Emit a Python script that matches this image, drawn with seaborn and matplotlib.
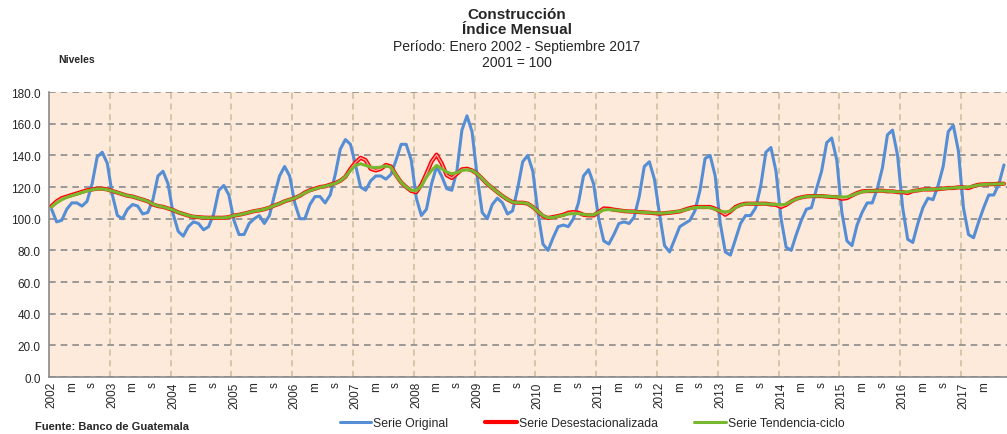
import numpy as np
import pandas as pd
import matplotlib
matplotlib.use('Agg')
import matplotlib.pyplot as plt
import seaborn as sns

# Indice mensual de construccion, enero 2002 - septiembre 2017
serie_original = [
    106, 98, 99, 106, 110, 110, 108, 111, 122, 139, 142, 135,
    115, 102, 100, 106, 109, 108, 103, 104, 112, 127, 130, 122,
    103, 92, 89, 95, 98, 97, 93, 95, 103, 118, 121, 115,
    99, 90, 90, 97, 100, 102, 97, 102, 115, 127, 133, 127,
    110, 100, 100, 109, 114, 114, 110, 115, 128, 144, 150, 147,
    134, 120, 118, 124, 127, 127, 125, 128, 137, 147, 147, 137,
    113, 102, 106, 122, 133, 127, 119, 118, 130, 156, 165, 155,
    127, 104, 100, 109, 113, 110, 103, 105, 119, 136, 140, 130,
    104, 84, 80, 88, 95, 96, 95, 100, 110, 127, 131, 122,
    100, 86, 84, 90, 97, 98, 97, 101, 114, 133, 136, 125,
    103, 83, 79, 87, 95, 97, 99, 105, 118, 138, 140, 127,
    97, 79, 77, 87, 97, 102, 102, 107, 121, 142, 145, 130,
    100, 82, 80, 90, 99, 106, 107, 119, 130, 148, 151, 137,
    104, 86, 83, 96, 104, 110, 110, 119, 132, 153, 156, 140,
    107, 87, 85, 97, 107, 113, 112, 121, 133, 155, 159, 143,
    107, 90, 88, 98, 107, 115, 115, 122, 134,
]

serie_desestacionalizada = [
    108, 111, 113, 114, 115, 116, 117, 118, 118.5, 119, 119, 118.5,
    117.5, 116.5, 115.5, 114.5, 114, 113, 112, 111, 109, 108, 107.5, 106.5,
    105.5, 104, 103, 102, 101.2, 101, 100.7, 100.6, 100.6, 100.6, 100.6, 101,
    102, 102.5, 103.2, 104, 104.8, 105.3, 106, 107, 108.4, 109.5, 111, 112,
    113, 114.5, 116.5, 118, 119, 120, 120.5, 121.5, 122.5, 124, 126.5, 131.5,
    135.5, 138.5, 137, 131.5, 130.5, 131.5, 134, 133, 127.5, 123, 120, 117.5,
    116.8, 121.5, 128.5, 136, 140.5, 135, 127.5, 125.7, 128.4, 131.2, 131.6, 130.5,
    128.4, 125.3, 122, 119.4, 116.8, 114.3, 112.2, 110.5, 110.1, 110.1, 109.5, 107.4,
    104.6, 101.7, 100.4, 101.1, 101.7, 102.5, 103.8, 104.2, 103.8, 102.5, 102.1, 102.1,
    104.2, 106.5, 106.3, 105.7, 105.3, 104.8, 104.6, 104.5, 104.2, 104, 103.8, 103.5,
    103.2, 103.5, 103.8, 104.2, 104.6, 105.7, 106.7, 107.4, 107.4, 107.4, 107.4, 106.3,
    104.6, 102.5, 104.6, 107.4, 108.8, 109.5, 109.5, 109.5, 109.5, 109.5, 109, 108.8,
    107.4, 108.8, 110.9, 112.6, 113.5, 114.1, 114.3, 114.3, 114.3, 114, 113.7, 113.7,
    112.6, 113, 114.7, 116.2, 117.3, 117.5, 117.5, 117.7, 117.7, 117.3, 117.3, 116.8,
    116.8, 116.2, 117.5, 117.9, 118.5, 118.5, 118.5, 118.7, 119, 119.4, 119.4, 119.8,
    119.8, 119.4, 120.6, 121.5, 121.7, 121.8, 121.9, 122.1, 122.1,
]

serie_tendencia = [
    107.5, 110, 112, 113.5, 114.5, 115.5, 116.5, 117.5, 118.3, 118.8, 118.8, 118.3,
    117.5, 116.5, 115.5, 114.5, 114, 113, 112, 111, 109.2, 108.1, 107.5, 106.5,
    105.5, 104, 103, 102, 101.3, 101, 100.7, 100.6, 100.6, 100.6, 100.6, 101,
    102, 102.5, 103.2, 104, 104.8, 105.3, 106, 107, 108.4, 109.5, 111, 112,
    113, 114.5, 116.3, 117.8, 118.8, 119.8, 120.5, 121.3, 122.3, 124, 126.5, 130.5,
    133.7, 134.7, 133.7, 132.6, 132.3, 132.6, 133.3, 132.6, 127.4, 123, 120, 117.9,
    117.9, 120.6, 126.3, 130.5, 133.7, 131.6, 129.5, 128.4, 129.1, 130.5, 130.9, 130.5,
    128.4, 125.3, 122.1, 119.4, 116.8, 114.3, 112.2, 110.5, 110.1, 110.1, 109.5, 107.4,
    104.6, 102, 100.6, 100.8, 101.5, 102.2, 103, 103.2, 103.3, 102.7, 102.3, 102.5,
    104, 105.5, 105.8, 105.5, 105.2, 104.8, 104.6, 104.5, 104.2, 104, 103.8, 103.6,
    103.5, 103.6, 103.9, 104.3, 104.7, 105.5, 106.4, 107, 107.2, 107.2, 107, 106,
    104.8, 104.3, 104.8, 107, 108.6, 109.3, 109.5, 109.5, 109.5, 109.4, 109.2, 109,
    108.8, 109.2, 110.9, 112.4, 113.4, 114, 114.2, 114.3, 114.3, 114.1, 113.9, 113.8,
    113.7, 113.8, 114.7, 116, 117, 117.4, 117.5, 117.6, 117.6, 117.4, 117.2, 117,
    116.9, 117, 117.5, 117.9, 118.3, 118.5, 118.6, 118.8, 119, 119.3, 119.5, 119.7,
    119.8, 120.1, 120.6, 121.3, 121.6, 121.8, 121.9, 122, 122.1,
]

anios = list(range(2002, 2018))
etiquetas_mes = {0: None, 4: 'm', 8: 's'}  # enero -> año, mayo -> m, septiembre -> s

n = len(serie_original)
df = pd.DataFrame({
    'mes': np.arange(n),
    'original': serie_original,
    'desest': serie_desestacionalizada,
    'tendencia': serie_tendencia,
})

sns.set_style('white')
plt.rcParams['font.family'] = ['Liberation Sans', 'DejaVu Sans']
narrow = ['Liberation Sans Narrow', 'Liberation Sans', 'DejaVu Sans']

fig = plt.figure(figsize=(10.07, 4.35), dpi=100)
ax = fig.add_axes([0.0487, 0.131, 0.9513, 0.655])
ax.set_facecolor('#FDEADA')

sns.lineplot(data=df, x='mes', y='original', ax=ax, color='#558ED5', lw=2.2,
             label='Serie Original', zorder=3)
sns.lineplot(data=df, x='mes', y='desest', ax=ax, color='#FF0000', lw=3.0,
             label='Serie Desestacionalizada', zorder=4)
sns.lineplot(data=df, x='mes', y='desest', ax=ax, color='#FFA0A0', lw=1.0,
             legend=False, zorder=4)
sns.lineplot(data=df, x='mes', y='tendencia', ax=ax, color='#77B82E', lw=2.2,
             label='Serie Tendencia-ciclo', zorder=5)

ax.set_xlim(-0.5, 188.6)
ax.set_ylim(0, 180)
ax.set_xlabel('')
ax.set_ylabel('')

# eje y
ax.set_yticks(np.arange(0, 181, 20))
ax.set_yticklabels([f'{v:.1f}' for v in np.arange(0, 181, 20)], fontsize=8.5)
ax.yaxis.grid(True, color='#8A8A8A', ls=(0, (4, 3)), lw=1.2)

# eje x: limites de año como ticks mayores, etiquetas en ticks menores
limites = [12 * k - 0.5 for k in range(1, len(anios))]
ax.set_xticks(limites)
ax.set_xticklabels([])
ax.xaxis.grid(True, color='#C8BE9A', ls=(0, (4, 3)), lw=1.1)
pos, txt = [], []
for k, a in enumerate(anios):
    for m, lab in etiquetas_mes.items():
        i = 12 * k + m
        if i < n - 1:
            pos.append(i)
            txt.append(str(a) if lab is None else lab)
ax.set_xticks(pos, minor=True)
ax.set_xticklabels(txt, minor=True, rotation=90, fontsize=8.5)
ax.tick_params(axis='x', which='minor', length=0, pad=3)
ax.tick_params(axis='x', which='major', length=4, color='#8A8A8A', direction='out')
ax.tick_params(axis='y', length=4, color='#8A8A8A', direction='out', pad=2)
ax.set_axisbelow(True)

for s in ['top', 'right']:
    ax.spines[s].set_visible(False)
for s in ['left', 'bottom']:
    ax.spines[s].set_color('#8A8A8A')
    ax.spines[s].set_linewidth(1.2)

# textos
fig.text(0.513, 0.965, 'Construcción', ha='center', va='center', fontsize=11,
         fontweight='bold', family=narrow)
fig.text(0.513, 0.932, 'Índice Mensual', ha='center', va='center', fontsize=11,
         fontweight='bold', family=narrow)
fig.text(0.513, 0.892, 'Período: Enero 2002 - Septiembre 2017', ha='center', va='center',
         fontsize=10)
fig.text(0.513, 0.855, '2001 = 100', ha='center', va='center', fontsize=10)
fig.text(0.058, 0.862, 'Niveles', ha='left', va='center', fontsize=7.5,
         fontweight='bold', family=narrow)
fig.text(0.035, 0.018, 'Fuente: Banco de Guatemala', ha='left', va='center', fontsize=8,
         fontweight='bold', family=narrow)

ax.get_legend().remove()
handles, labels = ax.get_legend_handles_labels()
fig.legend(handles, labels, loc='center', bbox_to_anchor=(0.588, 0.025), ncol=3,
           frameon=False, fontsize=8.8, handlelength=2.6, handletextpad=0.15,
           columnspacing=3.0)

fig.savefig('out.png', dpi=100)
